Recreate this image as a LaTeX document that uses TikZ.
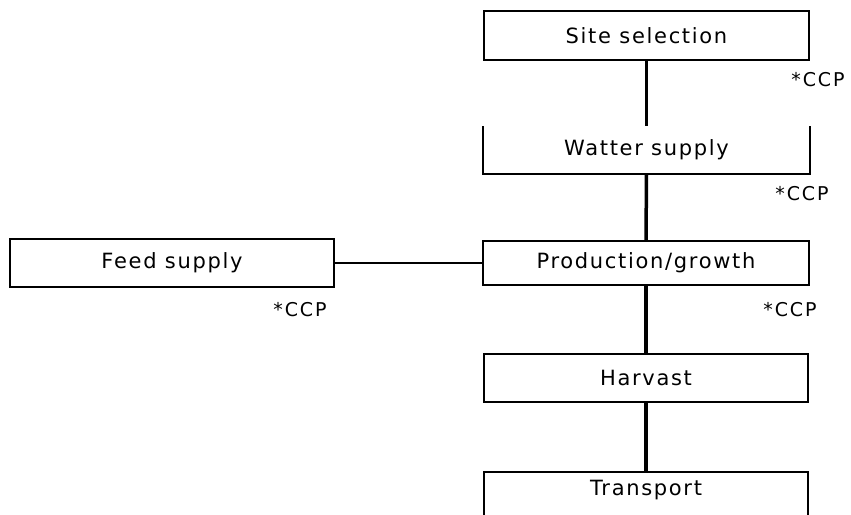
\documentclass[tikz,border=0pt]{standalone}
\usepackage{fontspec}
\setmainfont{DejaVu Sans}[LetterSpace=8]
\newfontfamily\ccpfont{DejaVu Sans}[LetterSpace=10]
\begin{document}
\begin{tikzpicture}[x=1pt,y=-1pt,
  stepbox/.style={draw=black,line width=2pt,minimum width=325pt,inner sep=0pt,font=\fontsize{21}{24}\selectfont},
  vlink/.style={line width=3.5pt},
  hlink/.style={line width=2.2pt},
  ccp/.style={font=\ccpfont\fontsize{19}{22}\selectfont,inner sep=0pt}]
\clip (0,0) rectangle (851,514);
\fill[white] (0,0) rectangle (851,514);
\node[stepbox,minimum height=49pt] (site) at (646.5,35.5) {Site selection};
\node[stepbox,draw=none,minimum height=46pt] (water) at (646.5,150) {Watter supply};
\draw[line width=2pt] (water.north west) -- (water.south west) -- (water.south east) -- (water.north east);
\node[stepbox,minimum height=44pt,minimum width=326pt] (prod) at (646,263) {Production/growth};
\node[stepbox,minimum height=48pt,minimum width=324pt] (feed) at (172,263) {Feed supply};
\node[stepbox,minimum height=48pt,minimum width=324pt] (harv) at (646,378) {Harvast};
\node[stepbox,minimum height=48pt,minimum width=324pt] (trans) at (646,496) {};
\node[font=\fontsize{21}{24}\selectfont,inner sep=0pt] (transl) at (646,490) {Transport};
\draw[vlink] (site.south) -- (water.north);
\draw[vlink] (water.south) -- (prod.north);
\draw[vlink] (prod.south) -- (harv.north);
\draw[vlink] (harv.south) -- (trans.north);
\draw[hlink] (feed.east) -- (prod.west);
\node[ccp] (c1) at (818,80) {*CCP};
\node[ccp] (c2) at (802,194) {*CCP};
\node[ccp] (c3) at (790,310) {*CCP};
\node[ccp] (c4) at (300,310) {*CCP};
\end{tikzpicture}
\end{document}
